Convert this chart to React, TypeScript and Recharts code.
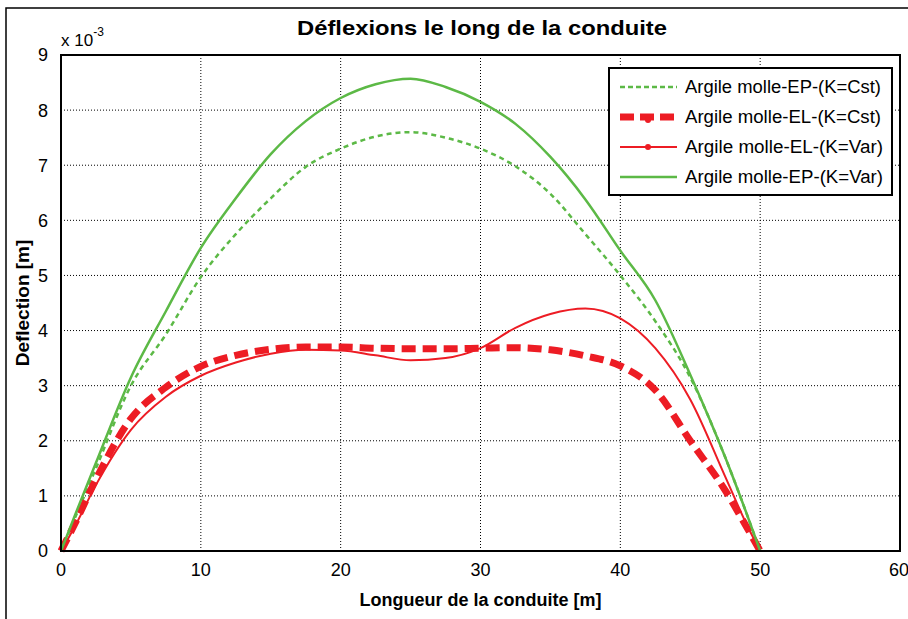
import {
  CartesianGrid,
  Label,
  Line,
  LineChart,
  ReferenceArea,
  XAxis,
  YAxis
} from 'recharts';

// position along the pipe [m]
const positions = [0, 1, 2.5, 5, 7.5, 10, 12.5, 15, 17.5, 20, 22.5, 25, 27.5, 30, 32.5, 35, 37.5, 40, 42.5, 45, 47.5, 49, 50];

// deflection values, x 10^-3 m
const epCst = [0, 0.6, 1.5, 3.0, 3.93, 4.97, 5.75, 6.4, 6.97, 7.3, 7.52, 7.6, 7.5, 7.3, 6.98, 6.48, 5.75, 5.0, 4.17, 3.15, 1.7, 0.7, 0];
const elCst = [0, 0.5, 1.3, 2.4, 2.97, 3.35, 3.55, 3.66, 3.7, 3.7, 3.68, 3.67, 3.67, 3.68, 3.69, 3.65, 3.54, 3.36, 2.92, 2.0, 1.1, 0.45, 0];
const elVar = [0, 0.45, 1.2, 2.2, 2.8, 3.18, 3.42, 3.58, 3.65, 3.64, 3.55, 3.46, 3.5, 3.68, 4.05, 4.3, 4.4, 4.22, 3.68, 2.75, 1.35, 0.5, 0];
const epVar = [0, 0.65, 1.6, 3.15, 4.35, 5.5, 6.4, 7.2, 7.8, 8.22, 8.47, 8.57, 8.42, 8.15, 7.75, 7.15, 6.38, 5.45, 4.55, 3.2, 1.7, 0.7, 0];

const xTicks = [0, 10, 20, 30, 40, 50, 60];
const yTicks = [0, 1, 2, 3, 4, 5, 6, 7, 8, 9];

const GREEN = '#5cb946';
const RED = '#ed1c24';
const FONT = '"Liberation Sans", Arial, sans-serif';

const data = positions.map((x, i) => ({
  x,
  epCst: epCst[i],
  elCst: elCst[i],
  elVar: elVar[i],
  epVar: epVar[i]
}));

const legendItems = [
  { label: 'Argile molle-EP-(K=Cst)', color: GREEN, width: 2.5, dash: '5 3', marker: false },
  { label: 'Argile molle-EL-(K=Cst)', color: RED, width: 7, dash: '14 6', marker: true },
  { label: 'Argile molle-EL-(K=Var)', color: RED, width: 2, dash: undefined, marker: true },
  { label: 'Argile molle-EP-(K=Var)', color: GREEN, width: 2.5, dash: undefined, marker: false }
];

function LegendBox() {
  return (
    <g transform="translate(608,67)">
      <rect x={1} y={1} width={283} height={127} fill="#fff" stroke="#000" strokeWidth={2} />
      {legendItems.map((it, i) => {
        const y = 20 + i * 30;
        return (
          <g key={it.label}>
            <line x1={12} x2={69} y1={y} y2={y} stroke={it.color} strokeWidth={it.width} strokeDasharray={it.dash} />
            {it.marker && <circle cx={40} cy={y + (it.width > 3 ? 3 : 0)} r={3} fill={it.color} />}
            <text x={77} y={y + 6} fontSize={18} fontFamily={FONT} fill="#000" textLength={it.label.includes('Var') ? 198 : 196} lengthAdjust="spacingAndGlyphs">
              {it.label}
            </text>
          </g>
        );
      })}
    </g>
  );
}

export default function App() {
  return (
    <div style={{ position: 'absolute', left: 0, top: 0, width: 908, height: 619, background: '#fff' }}>
      <LineChart
        width={908}
        height={619}
        data={data}
        margin={{ top: 55, right: 8, bottom: 38, left: 0 }}
        style={{ fontFamily: FONT }}
      >
        <CartesianGrid stroke="#000" strokeDasharray="1 2" strokeWidth={1} />
        <XAxis
          dataKey="x"
          type="number"
          domain={[0, 60]}
          ticks={xTicks}
          height={30}
          axisLine={{ stroke: '#000', strokeWidth: 2 }}
          tickLine={false}
          tick={{ fill: '#000', fontSize: 18, fontFamily: FONT }}
          tickMargin={6}
        >
          <Label
            value="Longueur de la conduite [m]"
            position="bottom"
            offset={12}
            style={{ fill: '#000', fontSize: 18, fontWeight: 'bold', fontFamily: FONT }}
          />
        </XAxis>
        <YAxis
          type="number"
          domain={[0, 9]}
          ticks={yTicks}
          width={61}
          axisLine={{ stroke: '#000', strokeWidth: 2 }}
          tickLine={false}
          tick={{ fill: '#000', fontSize: 18, fontFamily: FONT }}
          tickMargin={7}
        >
          <Label
            value="Deflection [m]"
            angle={-90}
            position="insideLeft"
            offset={22}
            style={{ textAnchor: 'middle', fill: '#000', fontSize: 19, fontWeight: 'bold', fontFamily: FONT }}
          />
        </YAxis>
        <ReferenceArea x1={0} x2={60} y1={0} y2={9} fill="none" stroke="#000" strokeWidth={2} />
        <Line dataKey="epCst" type="monotone" stroke={GREEN} strokeWidth={2.5} strokeDasharray="5 4" dot={false} isAnimationActive={false} />
        <Line dataKey="elCst" type="monotone" stroke={RED} strokeWidth={7} strokeDasharray="14 7" dot={false} isAnimationActive={false} />
        <Line dataKey="elVar" type="monotone" stroke={RED} strokeWidth={2} dot={false} isAnimationActive={false} />
        <Line dataKey="epVar" type="monotone" stroke={GREEN} strokeWidth={2.5} dot={false} isAnimationActive={false} />
      </LineChart>
      <svg width={908} height={619} style={{ position: 'absolute', left: 0, top: 0, pointerEvents: 'none' }}>
        <polyline points="6,619 6,8 908,8" fill="none" stroke="#000" strokeWidth={1.5} />
        <text x={482} y={35} textAnchor="middle" fontSize={21} fontWeight="bold" fontFamily={FONT} fill="#000" textLength={370} lengthAdjust="spacingAndGlyphs">
          Déflexions le long de la conduite
        </text>
        <text x={61} y={46} fontSize={17} fontFamily={FONT} fill="#000">
          x 10
          <tspan dy={-10} fontSize={12}>-3</tspan>
        </text>
        <LegendBox />
      </svg>
    </div>
  );
}
